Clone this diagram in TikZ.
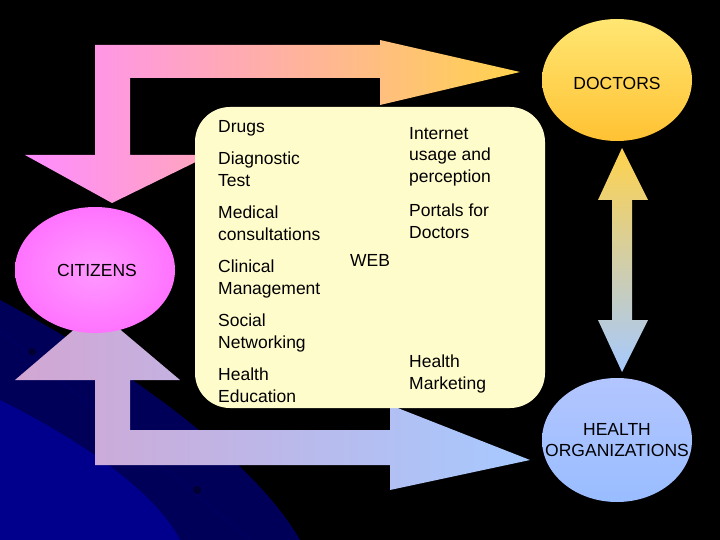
\documentclass[tikz,border=0pt]{standalone}
\usepackage{fontspec}
\setmainfont{Liberation Sans}
\begin{document}
\begin{tikzpicture}[x=1pt,y=-1pt,
  lbl/.style={font=\fontsize{17.5}{21.5}\selectfont, align=left, anchor=north west, inner sep=0pt},
  ctr/.style={font=\fontsize{17.5}{21.5}\selectfont, align=center, inner sep=0pt}]
\useasboundingbox (0,0) rectangle (720,540);
\fill[black] (0,0) rectangle (720,540);
% blue background glow
\fill[blue!35!black] (0,300) .. controls (150,380) and (260,470) .. (300,540) -- (0,540) -- cycle;
\fill[blue!55!black] (0,400) .. controls (100,450) and (160,500) .. (180,540) -- (0,540) -- cycle;
\draw[blue!40!black, thick] (0,330) -- (250,540);
\fill[blue!20!black] (32,352) circle (4);
\fill[blue!20!black] (197,490) circle (4);
% top arrow
\shade[left color=magenta!45, right color=orange!50!yellow!70]
  (95,155) -- (95,45) -- (380,45) -- (380,40) -- (520,72) -- (380,105) -- (380,78)
  -- (130,78) -- (130,155) -- (210,155) -- (112,203) -- (25,155) -- cycle;
% bottom arrow
\shade[left color=violet!35, right color=cyan!40!blue!35]
  (15,380) -- (97,310) -- (180,380) -- (130,380) -- (130,430) -- (390,430) -- (390,405)
  -- (530,460) -- (390,490) -- (390,465) -- (95,465) -- (95,380) -- cycle;
% ellipses
\shade[top color=orange!35!yellow!55, bottom color=orange!60!yellow!80] (617,80) ellipse (75 and 61);
\node[ctr] (doc) at (617,83) {DOCTORS};
\shade[inner color=magenta!40, outer color=magenta!55] (95,270) ellipse (80 and 63);
\node[ctr] (cit) at (97,270) {CITIZENS};
\shade[top color=cyan!25!blue!30, bottom color=cyan!35!blue!40] (617,440) ellipse (75 and 62);
\node[ctr] (ho) at (617,440) {HEALTH\\ORGANIZATIONS};
% vertical double arrow
\shade[top color=orange!50!yellow!70, bottom color=cyan!40!blue!35]
  (622,148) -- (648,200) -- (632,200) -- (632,320) -- (648,320) -- (622,372)
  -- (598,320) -- (612,320) -- (612,200) -- (598,200) -- cycle;
% web box
\fill[yellow!20, rounded corners=35] (195,107) rectangle (545,408);
\node[ctr] (web) at (370,260) {WEB};
\node[lbl] (a) at (218,120) {Drugs};
\node[lbl] (b) at (218,152) {Diagnostic\\Test};
\node[lbl] (c) at (218,206) {Medical\\consultations};
\node[lbl] (d) at (218,260) {Clinical\\Management};
\node[lbl] (e) at (218,314) {Social\\Networking};
\node[lbl] (f) at (218,368) {Health\\Education};
\node[lbl] (g) at (409,127) {Internet\\usage and\\perception};
\node[lbl] (h) at (409,204) {Portals for\\Doctors};
\node[lbl] (i) at (409,355) {Health\\Marketing};
\end{tikzpicture}
\end{document}
